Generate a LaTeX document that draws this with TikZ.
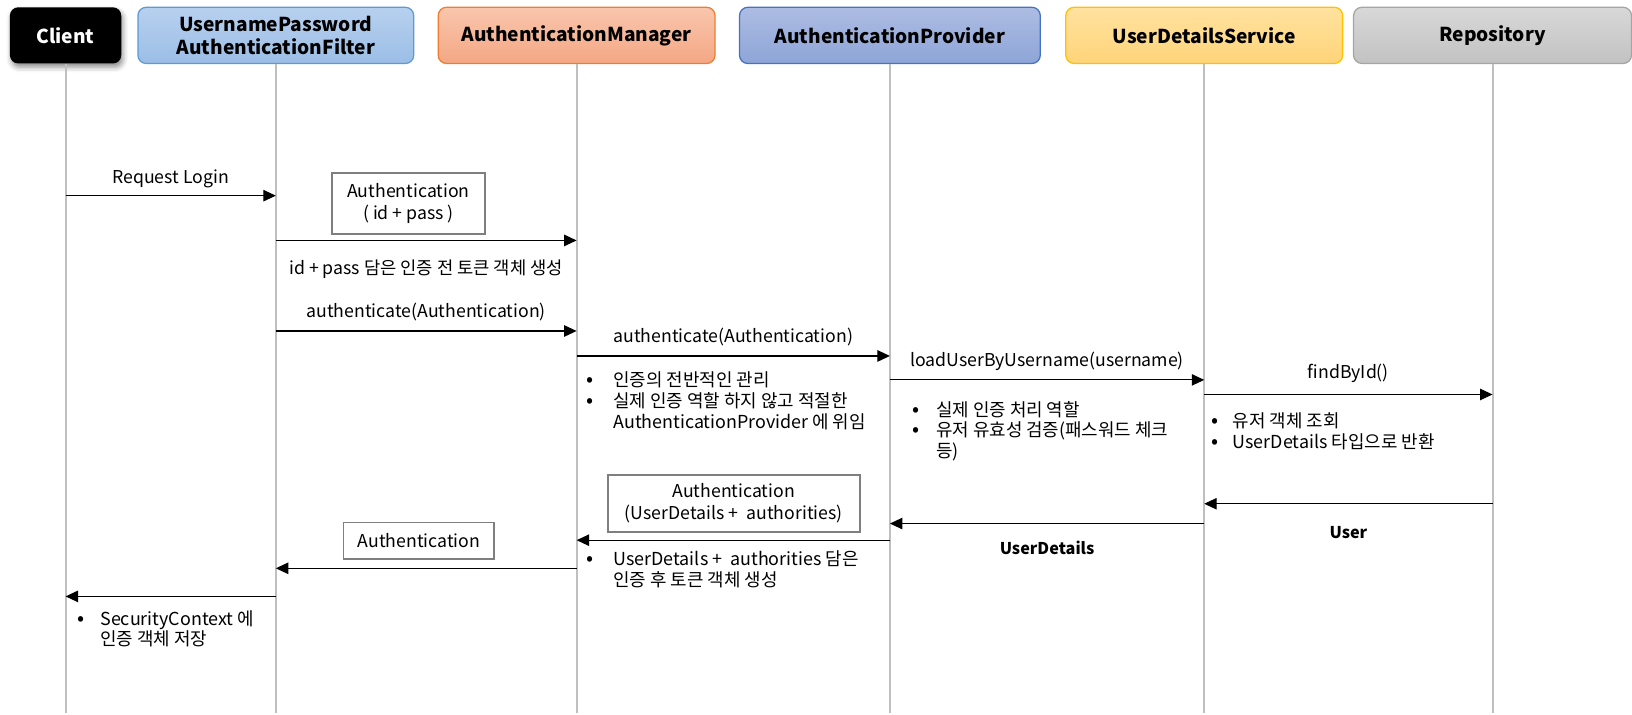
\documentclass[tikz,border=0pt]{standalone}
\usepackage{fontspec}
\setmainfont{Noto Sans CJK KR}
\usetikzlibrary{arrows.meta,shadows.blur}

\definecolor{lifegray}{HTML}{BFBFBF}
\definecolor{boxgray}{HTML}{7F7F7F}
\definecolor{filtertop}{HTML}{B7D0EF}
\definecolor{filterbot}{HTML}{9BBEE6}
\definecolor{filterline}{HTML}{5B9BD5}
\definecolor{mgrtop}{HTML}{F9C6AE}
\definecolor{mgrbot}{HTML}{F4A783}
\definecolor{mgrline}{HTML}{ED7D31}
\definecolor{provtop}{HTML}{ADBCE3}
\definecolor{provbot}{HTML}{8DA5D7}
\definecolor{provline}{HTML}{4472C4}
\definecolor{udstop}{HTML}{FFE29F}
\definecolor{udsbot}{HTML}{FFD479}
\definecolor{udsline}{HTML}{FFC000}
\definecolor{repotop}{HTML}{D8D8D8}
\definecolor{repobot}{HTML}{C2C2C2}
\definecolor{repoline}{HTML}{A5A5A5}

\newcommand\bul[1][12pt]{\makebox[#1][l]{\fontsize{10}{10}\selectfont•}}

\tikzset{
  head/.style={rounded corners=4pt, minimum height=27pt, line width=0.6pt,
    font=\fontsize{9.2}{11}\selectfont\bfseries, align=center},
  life/.style={draw=lifegray, line width=1pt},
  msg/.style={-{Triangle[length=6pt,width=5.5pt]}, line width=0.55pt},
  obj/.style={draw=boxgray, line width=0.9pt, fill=white, align=center,
    font=\fontsize{8.5}{10.5}\selectfont},
  lbl/.style={font=\fontsize{8.5}{10.5}\selectfont},
  note/.style={font=\fontsize{8.6}{10}\selectfont, align=left, anchor=north west, inner sep=0pt},
  retlbl/.style={font=\fontsize{7.8}{10}\selectfont\bfseries}
}

\begin{document}
\begin{tikzpicture}[x=0.5pt, y=-0.5pt]
  \useasboundingbox (0,0) rectangle (1568,686);

  % participants
  \node[head, fill=black, text=white, minimum width=53.5pt,
        blur shadow={shadow xshift=0.8pt, shadow yshift=-1.8pt, shadow blur radius=2.5pt, shadow opacity=45}]
        (client) at (63,34) {Client};
  \node[head, draw=filterline, top color=filtertop, bottom color=filterbot, minimum width=132.5pt]
        (filter) at (265,34) {UsernamePassword\\AuthenticationFilter};
  \node[head, draw=mgrline, top color=mgrtop, bottom color=mgrbot, minimum width=133pt]
        (manager) at (554,34) {AuthenticationManager};
  \node[head, draw=provline, top color=provtop, bottom color=provbot, minimum width=144.5pt]
        (provider) at (855,34) {AuthenticationProvider};
  \node[head, draw=udsline, top color=udstop, bottom color=udsbot, minimum width=133pt]
        (uds) at (1157,34) {UserDetailsService};
  \node[head, draw=repoline, top color=repotop, bottom color=repobot, minimum width=133.5pt]
        (repo) at (1434,34) {Repository};

  % lifelines
  \coordinate (bottom) at (0,685);
  \foreach \p in {client,filter,manager,provider,uds,repo}
    \draw[life] (\p.south) -- (\p |- bottom);

  % message rows
  \foreach \n/\y in {1/188,2/231,3/318,4/342,5/365,6/379,7/484,8/503,9/519,10/546,11/573}
    \coordinate (r\n) at (0,\y);

  % requests
  \draw[msg] (client |- r1) -- node[lbl, above=0pt] (reqlbl) {Request Login} (filter |- r1);
  \node[obj, minimum width=73.5pt, minimum height=29.5pt] (token) at (392.5,195.5)
        {Authentication\\( id + pass )};
  \draw[msg] (filter |- r2) -- node[lbl, below=5.5pt] (tokenlbl) {id + pass 담은 인증 전 토큰 객체 생성} (manager |- r2);
  \draw[msg] (filter |- r3) -- node[lbl, above=1pt] (authlbl) {authenticate(Authentication)} (manager |- r3);
  \draw[msg] (manager |- r4) -- node[lbl, above=1pt] (authlblb) {authenticate(Authentication)} (provider |- r4);
  \node[note] (mgrnote) at (563,357)
        {\bul[13pt]인증의 전반적인 관리\\
         \bul[13pt]실제 인증 역할 하지 않고 적절한\\
         \hspace*{13pt}AuthenticationProvider 에 위임};
  \draw[msg] (provider |- r5) -- node[lbl, above=1pt] (loadlbl) {loadUserByUsername(username)} (uds |- r5);
  \node[note] (provnote) at (876,385)
        {\bul[11.5pt]실제 인증 처리 역할\\
         \bul[11.5pt]유저 유효성 검증(패스워드 체크\\
         \hspace*{11.5pt}등)};
  \draw[msg] (uds |- r6) -- node[lbl, above=2pt] (findlbl) {findById()} (repo |- r6);
  \node[note] (udsnote) at (1164,396)
        {\bul[10pt]유저 객체 조회\\
         \bul[10pt]UserDetails 타입으로 반환};

  % responses
  \draw[msg] (repo |- r7) -- node[retlbl, below=7.5pt] (userlbl) {User} (uds |- r7);
  \draw[msg] (uds |- r8) -- node[retlbl, below=5pt] (detlbl) {UserDetails} (provider |- r8);
  \node[obj, minimum width=121pt, minimum height=27.5pt] (fulltoken) at (705,483.5)
        {Authentication\\(UserDetails +~~authorities)};
  \draw[msg] (provider |- r9) -- (manager |- r9);
  \node[note] (tokennote) at (563,529)
        {\bul[13pt]UserDetails +~~authorities 담은\\
         \hspace*{13pt}인증 후 토큰 객체 생성};
  \node[obj, minimum width=72.5pt, minimum height=17.5pt] (resulttoken) at (402.5,519.5) {Authentication};
  \draw[msg] (manager |- r10) -- (filter |- r10);
  \draw[msg] (filter |- r11) -- (client |- r11);
  \node[note] (ctxnote) at (74,586)
        {\bul[11pt]SecurityContext 에\\
         \hspace*{11pt}인증 객체 저장};
\end{tikzpicture}
\end{document}
